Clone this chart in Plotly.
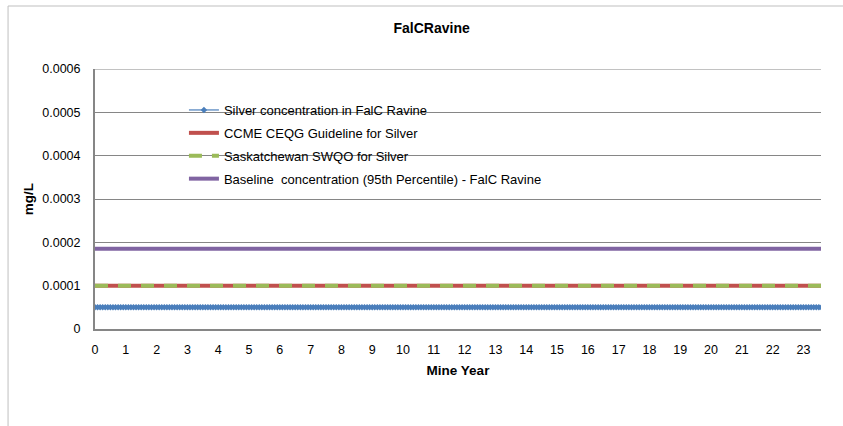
import plotly.graph_objects as go

# ---- data ----
# monthly time steps over the mine life (years)
mine_years = [m / 12 for m in range(0, 284)]
silver_conc = [0.00005] * len(mine_years)
ccme_years = [0, 23.6]
ccme_guideline = [0.0001, 0.0001]
sask_years = [0, 23.6]
sask_swqo = [0.0001, 0.0001]
base_years = [0, 23.6]
baseline_95 = [0.000185, 0.000185]
x_ticks = list(range(0, 24))
y_ticks = [0, 0.0001, 0.0002, 0.0003, 0.0004, 0.0005, 0.0006]
y_tick_text = ["0", "0.0001", "0.0002", "0.0003", "0.0004", "0.0005", "0.0006"]

W, H = 843, 426
L, R, T, B = 95, 21.5, 69, 97
pw, ph = W - L - R, H - T - B

def px_x(p):
    return (p - L) / pw

def px_y(p):
    return 1 - (p - T) / ph

FONT = "Liberation Sans, Arial, sans-serif"

fig = go.Figure()
fig.add_trace(go.Scatter(
    x=mine_years, y=silver_conc, mode="lines+markers",
    name="Silver concentration in FalC Ravine",
    line=dict(color="#4A7EBB", width=1.2),
    marker=dict(symbol="diamond", size=5, color="#4A7EBB"),
    legendgroup="a"))
fig.add_trace(go.Scatter(
    x=ccme_years, y=ccme_guideline, mode="lines",
    name="CCME CEQG Guideline for Silver",
    line=dict(color="#C0504D", width=4), legendgroup="b"))
fig.add_trace(go.Scatter(
    x=sask_years, y=sask_swqo, mode="lines",
    name="Saskatchewan SWQO for Silver",
    line=dict(color="#9BBB59", width=4, dash="13px,10px"), legendgroup="c"))
fig.add_trace(go.Scatter(
    x=base_years, y=baseline_95, mode="lines",
    name="Baseline  concentration (95th Percentile) - FalC Ravine",
    line=dict(color="#8064A2", width=4), legendgroup="d"))

fig.update_layout(
    width=W, height=H,
    margin=dict(l=L, r=R, t=T, b=B, autoexpand=False),
    paper_bgcolor="white", plot_bgcolor="white",
    font=dict(family=FONT, size=12.5, color="black"),
    title=dict(text="<b>FalCRavine</b>", x=0.512, xanchor="center",
               y=1 - 28 / H, yanchor="middle", font=dict(size=14)),
    showlegend=True,
    legend=dict(x=px_x(184), y=px_y(95), xanchor="left", yanchor="top",
                bgcolor="rgba(0,0,0,0)", traceorder="grouped",
                tracegroupgap=3, font=dict(size=13)),
    xaxis=dict(range=[0, 23.57], tickmode="array", tickvals=x_ticks,
               showgrid=False, zeroline=False, showline=True,
               linecolor="#868686", linewidth=2, ticks="",
               ticklabelstandoff=8, automargin=False,
               title=dict(text="<b>Mine Year</b>", font=dict(size=13.5), standoff=10)),
    yaxis=dict(range=[0, 0.0006], tickmode="array", tickvals=y_ticks,
               ticktext=y_tick_text, showgrid=True, gridcolor="#868686",
               gridwidth=1, zeroline=False, showline=True,
               linecolor="#868686", linewidth=2, ticks="",
               ticklabelstandoff=10, automargin=False,
               title=dict(text="<b>mg/L</b>", font=dict(size=13.5), standoff=6)),
    shapes=[dict(type="rect", xref="paper", yref="paper",
                 x0=px_x(8), x1=px_x(860), y0=px_y(440), y1=px_y(6),
                 line=dict(color="#BFBFBF", width=1), layer="below")],
)
fig.add_shape(type="line", xref="paper", yref="y", x0=0, x1=1,
              y0=0.0006, y1=0.0006, line=dict(color="#868686", width=1))

fig.write_html("out.html", config={"displayModeBar": False},
               post_script="document.body.style.margin='0px';document.body.style.padding='0px';")
